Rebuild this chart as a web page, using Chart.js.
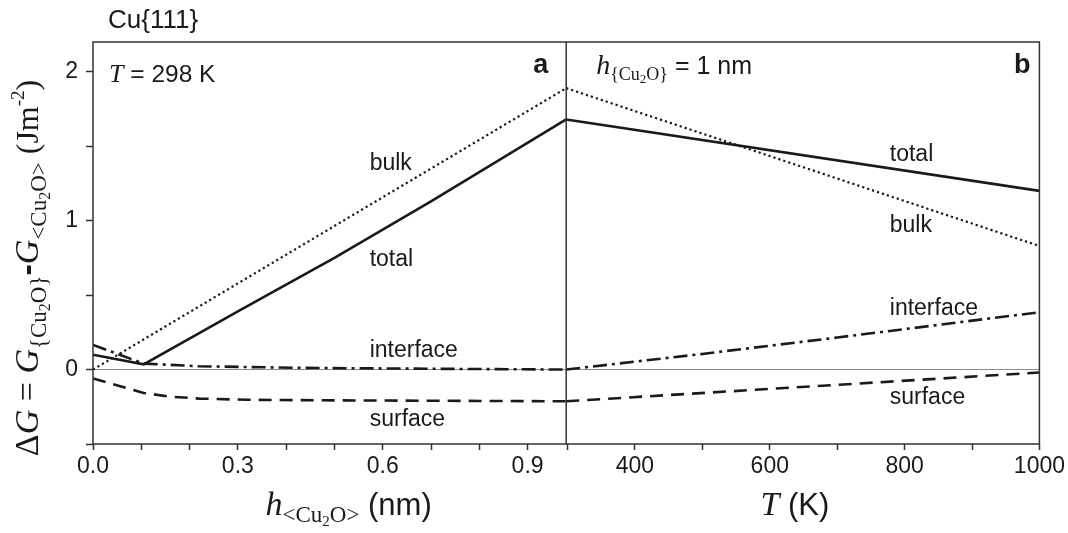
<!DOCTYPE html>
<html>
<head>
<meta charset="utf-8">
<script src="https://cdn.jsdelivr.net/npm/chart.js@4/dist/chart.umd.min.js"></script>
<style>
  html, body { margin: 0; background: #fff; }
  #wrap { width: 1068px; height: 533px; position: relative; }
</style>
</head>
<body>
<div id="wrap"><canvas id="cv"></canvas></div>
<script>
// panel a: T = 298 K, energy vs. oxide thickness h (nm)
const hTotal = [0, 0.105, 0.3, 0.5, 0.7, 0.98];
const gTotalA = [0.10, 0.035, 0.39, 0.75, 1.13, 1.68];
const hBulk = [0, 0.98];
const gBulkA = [0.0, 1.89];
const hInterface = [0, 0.105, 0.22, 0.44, 0.71, 0.98];
const gInterfaceA = [0.165, 0.04, 0.022, 0.011, 0.005, 0.0];
const hSurface = [0, 0.105, 0.16, 0.22, 0.32, 0.5, 0.98];
const gSurfaceA = [-0.06, -0.157, -0.182, -0.195, -0.203, -0.207, -0.213];

// panel b: h = 1 nm, energy vs. temperature T (K)
const tTotal = [298, 1000];
const gTotalB = [1.68, 1.20];
const tBulk = [298, 1000];
const gBulkB = [1.89, 0.83];
const tInterface = [298, 500, 700, 1000];
const gInterfaceB = [0.0, 0.105, 0.215, 0.385];
const tSurface = [298, 600, 1000];
const gSurfaceB = [-0.213, -0.13, -0.02];

// ticks
const hTicks = [0, 0.1, 0.2, 0.3, 0.4, 0.5, 0.6, 0.7, 0.8, 0.9];
const hTickLabels = ['0.0', '', '', '0.3', '', '', '0.6', '', '', '0.9'];
const tTicks = [300, 400, 500, 600, 700, 800, 900, 1000];
const tTickLabels = ['', '400', '', '600', '', '800', '', '1000'];
const gTicks = [-0.5, 0, 0.5, 1, 1.5, 2];
const gTickLabels = ['', '0', '', '1', '', '2'];

// curve labels: [text, axis, x, y]
const curveLabels = [
  ['bulk', 'xh', 0.573, 1.339],
  ['total', 'xh', 0.573, 0.694],
  ['interface', 'xh', 0.573, 0.085],
  ['surface', 'xh', 0.573, -0.382],
  ['total', 'xT', 778, 1.40],
  ['bulk', 'xT', 778, 0.925],
  ['interface', 'xT', 778, 0.365],
  ['surface', 'xT', 778, -0.229]
];

const SANS = '"Liberation Sans", Arial, sans-serif';
const SERIF = '"Liberation Serif", "Times New Roman", serif';
const INK = '#1a1a1a';

function pts(xs, ys) {
  return xs.map((x, i) => ({ x: x, y: ys[i] }));
}

const styles = {
  total: { borderDash: [], borderWidth: 2.6 },
  bulk: { borderDash: [2.2, 3], borderWidth: 2.2 },
  interface: { borderDash: [14, 5, 3, 5], borderWidth: 2.6 },
  surface: { borderDash: [13, 8], borderWidth: 2.6 }
};

function ds(name, axis, xs, ys) {
  return Object.assign({
    label: name,
    data: pts(xs, ys),
    xAxisID: axis,
    borderColor: INK,
    pointRadius: 0,
    tension: 0,
    fill: false,
    borderCapStyle: 'butt'
  }, styles[name]);
}

function rich(ctx, x, y, segs, align) {
  let w = 0;
  segs.forEach(s => { ctx.font = s[1]; w += ctx.measureText(s[0]).width; });
  let cx = align === 'center' ? x - w / 2 : align === 'right' ? x - w : x;
  ctx.textAlign = 'left';
  ctx.textBaseline = 'alphabetic';
  segs.forEach(s => {
    ctx.font = s[1];
    ctx.fillText(s[0], cx, y + (s[2] || 0));
    cx += ctx.measureText(s[0]).width;
  });
}

const decor = {
  id: 'decor',
  afterDatasetsDraw(chart) {
    const ctx = chart.ctx;
    const a = chart.chartArea;
    const xh = chart.scales.xh, xT = chart.scales.xT, y = chart.scales.y;
    ctx.save();
    // frame and panel divider
    ctx.strokeStyle = '#333';
    ctx.lineWidth = 1.5;
    ctx.strokeRect(a.left, a.top, a.right - a.left, a.bottom - a.top);
    ctx.beginPath();
    ctx.moveTo(xT.left, a.top);
    ctx.lineTo(xT.left, a.bottom);
    ctx.stroke();

    ctx.fillStyle = INK;
    // curve labels
    curveLabels.forEach(l => {
      const sc = l[1] === 'xh' ? xh : xT;
      rich(ctx, sc.getPixelForValue(l[2]), y.getPixelForValue(l[3]), [[l[0], '23px ' + SANS]], 'left');
    });

    // panel captions
    rich(ctx, a.left + 15, 28, [['Cu{111}', '26px ' + SANS]], 'left');
    rich(ctx, a.left + 16, a.top + 40, [['T', 'italic 26px ' + SERIF], [' = 298 K', '24.5px ' + SANS]], 'left');
    rich(ctx, xh.right - 18, a.top + 31, [['a', 'bold 27px ' + SANS]], 'right');
    rich(ctx, a.right - 9, a.top + 31, [['b', 'bold 27px ' + SANS]], 'right');
    rich(ctx, xT.left + 30, a.top + 32, [
      ['h', 'italic 28px ' + SERIF],
      ['{Cu', '18px ' + SERIF, 6],
      ['2', '13px ' + SERIF, 9],
      ['O}', '18px ' + SERIF, 6],
      [' = 1 nm', '25px ' + SANS]
    ], 'left');

    // axis titles
    rich(ctx, (xh.left + xh.right) / 2 + 19, 515, [
      ['h', 'italic 34px ' + SERIF],
      ['<Cu', '23px ' + SERIF, 7],
      ['2', '15px ' + SERIF, 11],
      ['O>', '23px ' + SERIF, 7],
      [' (nm)', '31px ' + SANS]
    ], 'center');
    rich(ctx, (xT.left + xT.right) / 2 - 8, 515, [
      ['T', 'italic 34px ' + SERIF],
      [' (K)', '31px ' + SANS]
    ], 'center');

    ctx.translate(38, 268);
    ctx.rotate(-Math.PI / 2);
    rich(ctx, 0, 0, [
      ['\u0394', '34px ' + SERIF],
      ['G', 'italic 34px ' + SERIF],
      [' = ', '34px ' + SERIF],
      ['G', 'italic 34px ' + SERIF],
      ['{Cu', '23px ' + SERIF, 8],
      ['2', '16px ' + SERIF, 12],
      ['O}', '23px ' + SERIF, 8],
      ['-', 'bold 34px ' + SANS],
      ['G', 'italic 34px ' + SERIF],
      ['<Cu', '23px ' + SERIF, 8],
      ['2', '16px ' + SERIF, 12],
      ['O>', '23px ' + SERIF, 8],
      [' (Jm', '32px ' + SERIF],
      ['-2', '19px ' + SERIF, -14],
      [')', '32px ' + SERIF]
    ], 'center');
    ctx.restore();
  }
};

const tickFont = { family: SANS, size: 23 };

function xAxis(min, max, ticks, labels) {
  return {
    type: 'linear',
    axis: 'x',
    position: 'bottom',
    stack: 'panels',
    stackWeight: 1,
    min: min,
    max: max,
    afterBuildTicks: s => { s.ticks = ticks.map(v => ({ value: v })); },
    afterFit: s => { s.height = 89; },
    ticks: {
      autoSkip: false,
      maxRotation: 0,
      padding: 3,
      color: INK,
      font: tickFont,
      callback: (v, i) => labels[i]
    },
    grid: { drawOnChartArea: false, tickLength: 6, tickColor: '#333', tickWidth: 1.5 },
    border: { display: false }
  };
}

new Chart(document.getElementById('cv'), {
  type: 'line',
  data: {
    datasets: [
      ds('total', 'xh', hTotal, gTotalA),
      ds('bulk', 'xh', hBulk, gBulkA),
      ds('interface', 'xh', hInterface, gInterfaceA),
      ds('surface', 'xh', hSurface, gSurfaceA),
      ds('total', 'xT', tTotal, gTotalB),
      ds('bulk', 'xT', tBulk, gBulkB),
      ds('interface', 'xT', tInterface, gInterfaceB),
      ds('surface', 'xT', tSurface, gSurfaceB)
    ]
  },
  options: {
    responsive: true,
    maintainAspectRatio: false,
    animation: false,
    layout: { padding: { left: 0, right: 27, top: 42, bottom: 0 } },
    plugins: { legend: { display: false }, tooltip: { enabled: false } },
    scales: {
      xh: xAxis(0, 0.98, hTicks, hTickLabels),
      xT: xAxis(298, 1000, tTicks, tTickLabels),
      y: {
        type: 'linear',
        position: 'left',
        min: -0.5,
        max: 2.2,
        afterBuildTicks: s => { s.ticks = gTicks.map(v => ({ value: v })); },
        afterFit: s => { s.width = 93; },
        ticks: {
          padding: 8,
          color: INK,
          font: tickFont,
          callback: (v, i) => gTickLabels[i]
        },
        grid: {
          color: c => (c.tick && c.tick.value === 0 ? '#8c8c8c' : 'rgba(0,0,0,0)'),
          lineWidth: 1,
          tickLength: 7,
          tickColor: '#333',
          tickWidth: 1.5
        },
        border: { display: false }
      }
    }
  },
  plugins: [decor]
});
</script>
</body>
</html>
